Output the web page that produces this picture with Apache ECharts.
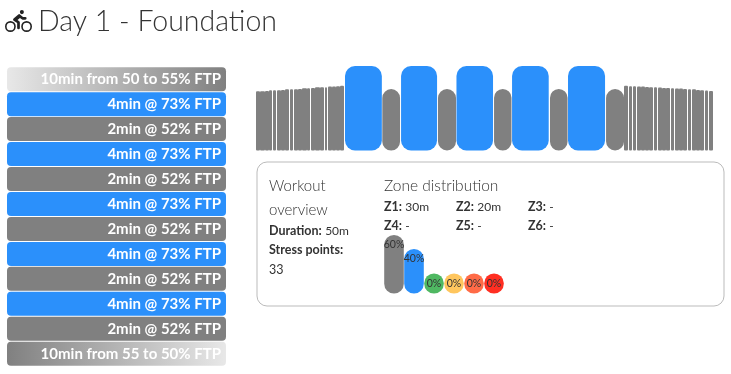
<!DOCTYPE html>
<html>
<head>
    <meta charset="utf-8">
    <title>Day 1 - Foundation</title>
    <script src="https://cdn.jsdelivr.net/npm/echarts@6/dist/echarts.min.js"></script>
    <style type="text/css">
        *{margin: 0;padding: 0;}
        body{background: #fff;overflow: hidden;}
    </style>
</head>
<body>
<div id="main" style="width: 731px;height: 374px;"></div>
<script type="text/javascript">
    var FONT = 'Lato';
    var titleText = 'Day 1 - Foundation';

    // colours by zone: 0 recovery, 1 endurance, then the unused ones
    var zoneColors = ['#808080','#2b90fb','#4fb862','#ffc65e','#ff6b47','#ff2f22'];

    // step list on the left
    var stepLabels = ['10min from 50 to 55% FTP','4min @ 73% FTP','2min @ 52% FTP','4min @ 73% FTP','2min @ 52% FTP','4min @ 73% FTP','2min @ 52% FTP','4min @ 73% FTP','2min @ 52% FTP','4min @ 73% FTP','2min @ 52% FTP','10min from 55 to 50% FTP'];
    var stepZones = [0,1,0,1,0,1,0,1,0,1,0,0];
    var stepLengths = [1,1,1,1,1,1,1,1,1,1,1,1];

    // workout profile, minutes and %FTP
    var profileStart = [0,.47,.95,1.42,1.83,2.26,2.69,3.13,3.70,4.09,4.53,5.01,5.53,5.96,6.41,6.90,7.40,7.79,8.19,8.62,9.05,
        9.59,13.61,15.63,19.61,21.6,25.65,27.59,31.68,33.62,37.72,
        39.69,40.16,40.63,41.09,41.49,41.92,42.35,42.92,43.35,43.75,44.18,44.75,45.18,45.58,46.02,46.59,46.98,47.41,47.84,48.42,48.81];
    var profileEnd = [.47,.95,1.42,1.72,2.16,2.69,3.13,3.59,4.02,4.53,5.01,5.46,5.85,6.41,6.90,7.33,7.68,8.19,8.62,9.05,9.48,
        13.56,15.52,19.51,21.55,25.54,27.53,31.54,33.57,37.61,39.66,
        40.05,40.52,40.98,41.49,41.92,42.35,42.81,43.25,43.75,44.18,44.65,45.08,45.58,46.02,46.48,46.91,47.41,47.84,48.31,48.74,49.21];
    var profilePower = [50,50,50.3,50.9,50.9,50.9,51.2,51.8,51.8,51.8,52.1,52.7,52.7,53,53.6,53.6,53.6,54.3,54.3,54.6,55,
        73,52,73,52,73,52,73,52,73,52,
        55,54.6,54.6,54.3,54.3,53.9,53.6,53.6,53.3,53,53,52.7,52.4,52.4,52.1,51.8,51.8,51.2,50.9,50.6,50.3];
    var profileZone = [0,0,0,0,0,0,0,0,0,0,0,0,0,0,0,0,0,0,0,0,0,
        1,0,1,0,1,0,1,0,1,0,
        0,0,0,0,0,0,0,0,0,0,0,0,0,0,0,0,0,0,0,0,0];

    // zone distribution
    var zoneNames = ['Z1','Z2','Z3','Z4','Z5','Z6'];
    var zoneTimes = ['30m','20m','-','-','-','-'];
    var zonePercent = [60,40,0,0,0,0];

    var overviewDuration = '50m';
    var overviewStress = '33';

    var bikeIcon = 'M400 96a48 48 0 1 0-48-48 48 48 0 0 0 48 48zm-4 121a31.9 31.9 0 0 0 20 7h64a32 32 0 0 0 0-64h-52.78L356 103a31.94 31.94 0 0 0-40.81.68l-112 96a32 32 0 0 0 3.08 50.92L288 305.12V416a32 32 0 0 0 64 0V288a32 32 0 0 0-14.25-26.62l-41.36-27.57 58.25-49.92zm116 39a128 128 0 1 0 128 128 128 128 0 0 0-128-128zm0 218a90 90 0 1 1 90-90 90 90 0 0 1-90 90zM128 256a128 128 0 1 0 128 128 128 128 0 0 0-128-128zm0 218a90 90 0 1 1 90-90 90 90 0 0 1-90 90z';

    var profileData = [];
    for(var i = 0;i < profileStart.length;i++){
        profileData.push([profileStart[i],profileEnd[i],profilePower[i],profileZone[i]]);
    }

    var stepData = [];
    for(var i = 0;i < stepLabels.length;i++){
        var fill = zoneColors[stepZones[i]];
        if(i == 0 || i == stepLabels.length - 1){
            fill = new echarts.graphic.LinearGradient(0,0,1,0,[
                {offset:0,color:i == 0 ? '#e8e8e8' : '#808080'},
                {offset:1,color:i == 0 ? '#808080' : '#e8e8e8'}
            ]);
        }
        stepData.push({value:stepLengths[i],itemStyle:{color:fill}});
    }

    function renderProfile(params, api){
        var a = api.coord([api.value(0),api.value(2)]);
        var b = api.coord([api.value(1),-4]);
        var x0 = a[0];
        var x1 = b[0];
        var w = x1 - x0;
        // ramp steps are thin, snap them or every seam shows up white
        if(w < 6){
            x0 = Math.round(x0);
            x1 = Math.round(x1);
        }
        return {
            type:'rect',
            shape:{x:x0,y:a[1],width:x1 - x0,height:b[1] - a[1],r:w < 6 ? 1 : Math.min(10,w / 2)},
            style:{fill:zoneColors[api.value(3)]}
        };
    }

    function renderZone(params, api){
        var i = params.dataIndex;
        var a = api.coord([i,api.value(1)]);
        var b = api.coord([i,-24]);
        var w = api.size([1,0])[0];
        var h = Math.max(20,b[1] - a[1]);
        return {
            type:'group',
            children:[
                {type:'rect',shape:{x:a[0] - w / 2 + .2,y:b[1] - h,width:w - .4,height:h,r:10},style:{fill:zoneColors[i]}},
                {type:'text',x:a[0],y:b[1] - h + 10,style:{text:api.value(1) + '%',fill:'#333',font:'10.5px ' + FONT,align:'center',verticalAlign:'middle'}}
            ]
        };
    }

    function renderIcon(){
        return {
            type:'path',
            shape:{pathData:bikeIcon,x:5,y:10,width:27,height:22,layout:'cover'},
            style:{fill:'#222'}
        };
    }

    function txt(x, y, content, size, weight){
        return {type:'text',x:x,y:y,style:{text:content,fill:'#333',font:(weight || 400) + ' ' + size + 'px ' + FONT,verticalAlign:'middle'}};
    }

    function zoneText(x, y, i){
        return {type:'text',x:x,y:y,style:{
            text:'{b|' + zoneNames[i] + ':} {n|' + zoneTimes[i] + '}',
            verticalAlign:'middle',
            rich:{
                b:{font:'700 12.5px ' + FONT,fill:'#333'},
                n:{font:'400 12px ' + FONT,fill:'#333'}
            }
        }};
    }

    var graphics = [
        txt(38,22,titleText,28.5,300),
        {type:'rect',shape:{x:257,y:162,width:467,height:144,r:10},style:{fill:'none',stroke:'#bbb',lineWidth:1}},
        txt(269,186,'Workout',15,300),
        txt(269,210,'overview',15,300),
        {type:'text',x:269,y:231,style:{text:'{b|Duration:} {n|' + overviewDuration + '}',verticalAlign:'middle',rich:{b:{font:'700 12.5px ' + FONT,fill:'#333'},n:{font:'400 12px ' + FONT,fill:'#333'}}}},
        txt(269,250,'Stress points:',12.5,700),
        txt(269,270,overviewStress,12.5,400),
        txt(384,186,'Zone distribution',15.5,300)
    ];
    for(var i = 0;i < zoneNames.length;i++){
        graphics.push(zoneText(384 + (i % 3) * 72,i < 3 ? 207 : 226,i));
    }

    var myChart = echarts.init(document.getElementById('main'),null,{renderer:'canvas'});
    var option = {
        animation:false,
        backgroundColor:'#fff',
        grid:[
            {left:7,top:66.7,width:219,height:299.5},
            {left:256,top:66,width:458,height:84.5},
            {left:384,top:235,width:120,height:58.5}
        ],
        xAxis:[
            {gridIndex:0,type:'value',min:0,max:1,show:false},
            {gridIndex:1,type:'value',min:0,max:49.35,show:false},
            {gridIndex:2,type:'category',data:zoneNames,show:false}
        ],
        yAxis:[
            {gridIndex:0,type:'category',inverse:true,data:stepLabels,show:false},
            {gridIndex:1,type:'value',min:-4,max:73,show:false},
            {gridIndex:2,type:'value',min:-24,max:60,show:false}
        ],
        series:[
            {
                type:'bar',
                xAxisIndex:0,
                yAxisIndex:0,
                barWidth:24,
                data:stepData,
                itemStyle:{borderRadius:4},
                label:{
                    show:true,
                    position:'insideRight',
                    distance:5,
                    color:'#fff',
                    fontFamily:FONT,
                    fontWeight:700,
                    fontSize:15,
                    formatter:function(p){return stepLabels[p.dataIndex];}
                }
            },
            {
                type:'custom',
                xAxisIndex:1,
                yAxisIndex:1,
                renderItem:renderProfile,
                encode:{x:[0,1],y:2},
                data:profileData
            },
            {
                type:'custom',
                xAxisIndex:2,
                yAxisIndex:2,
                renderItem:renderZone,
                encode:{x:0,y:1},
                data:zonePercent.map(function(v,i){return [i,v];})
            },
            {
                type:'custom',
                coordinateSystem:'none',
                renderItem:renderIcon,
                data:[0]
            }
        ],
        graphic:graphics
    };
    myChart.setOption(option);
</script>
</body>
</html>
